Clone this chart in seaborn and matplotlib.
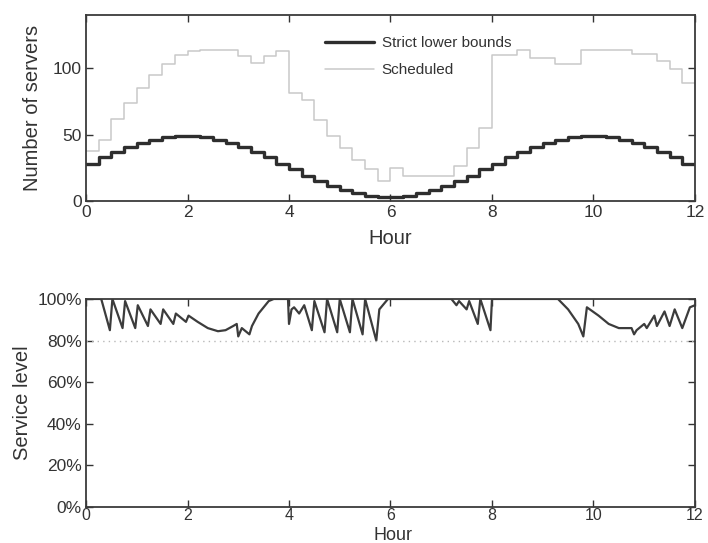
import numpy as np
import pandas as pd
import matplotlib
matplotlib.use("Agg")
import matplotlib.pyplot as plt
import seaborn as sns
from matplotlib.ticker import PercentFormatter

# ---- data -------------------------------------------------------------
# 15-minute interval starts (hours)
interval_start = [0.25 * k for k in range(48)]

strict_lower = [28, 33, 37, 41, 44, 46, 48, 49, 49, 48, 46, 44,
                41, 37, 33, 28, 24, 19, 15, 11, 8, 6, 4, 3,
                3, 4, 6, 8, 11, 15, 19, 24, 28, 33, 37, 41,
                44, 46, 48, 49, 49, 48, 46, 44, 41, 37, 33, 28]

scheduled = [38, 46, 62, 74, 85, 95, 103, 110, 113, 114, 114, 114,
             109, 104, 109, 113, 81, 76, 61, 49, 40, 31, 24, 15,
             25, 19, 19, 19, 19, 26, 40, 55, 110, 110, 114, 108,
             108, 103, 103, 114, 114, 114, 114, 111, 111, 105, 99, 89]

sl_hours = [0, 0.30, 0.47, 0.52, 0.72, 0.77, 0.97, 1.02, 1.22, 1.27, 1.47, 1.52,
            1.72, 1.77, 1.97, 2.02, 2.2, 2.4, 2.6, 2.75, 2.9, 2.97, 3.0, 3.07,
            3.22, 3.27, 3.4, 3.5, 3.6, 3.7, 3.98, 4.0, 4.05, 4.1, 4.2, 4.3,
            4.45, 4.5, 4.7, 4.75, 4.95, 5.0, 5.2, 5.25, 5.45, 5.5, 5.72, 5.78,
            5.95, 7.2, 7.3, 7.35, 7.5, 7.55, 7.72, 7.77, 7.97, 8.0, 9.3, 9.5,
            9.7, 9.8, 9.87, 10.1, 10.3, 10.5, 10.75, 10.8, 10.85, 11.0, 11.05, 11.2,
            11.25, 11.4, 11.5, 11.6, 11.75, 11.9, 12.0]
sl_values = [1.0, 1.0, 0.85, 1.0, 0.86, 0.99, 0.86, 0.97, 0.87, 0.95, 0.88, 0.95,
             0.88, 0.93, 0.89, 0.92, 0.89, 0.86, 0.845, 0.85, 0.87, 0.88, 0.82, 0.86,
             0.83, 0.87, 0.93, 0.96, 0.99, 1.0, 1.0, 0.88, 0.95, 0.96, 0.93, 0.97,
             0.85, 0.99, 0.84, 1.0, 0.84, 1.0, 0.84, 1.0, 0.83, 1.0, 0.80, 0.95,
             1.0, 1.0, 0.97, 0.99, 0.95, 0.99, 0.88, 1.0, 0.85, 1.0, 1.0, 0.95,
             0.88, 0.82, 0.96, 0.92, 0.88, 0.86, 0.86, 0.83, 0.85, 0.88, 0.86, 0.92,
             0.87, 0.94, 0.87, 0.95, 0.86, 0.96, 0.97]

target_level = 0.80

# ---- frames ----------------------------------------------------------
step_t = interval_start + [12.0]
df_top = pd.concat([
    pd.DataFrame({"Hour": step_t, "Servers": strict_lower + [strict_lower[-1]],
                  "Series": "Strict lower bounds"}),
    pd.DataFrame({"Hour": step_t, "Servers": scheduled + [scheduled[-1]],
                  "Series": "Scheduled"}),
], ignore_index=True)
df_sl = pd.DataFrame({"Hour": sl_hours, "SL": sl_values})

# ---- style -----------------------------------------------------------
sns.set_theme(style="ticks")
plt.rcParams["font.family"] = ["Liberation Sans", "DejaVu Sans"]
txt = "#333333"
plt.rcParams.update({
    "text.color": txt, "axes.labelcolor": txt,
    "xtick.color": txt, "ytick.color": txt,
    "axes.edgecolor": "#3a3a3a",
})

fig = plt.figure(figsize=(7.08, 5.43), dpi=100)
ax1 = fig.add_axes([0.1215, 0.6298, 0.8601, 0.3426])
ax2 = fig.add_axes([0.1215, 0.0663, 0.8601, 0.3831])

pal = {"Strict lower bounds": "#2e2e2e", "Scheduled": "#c9c9c9"}
sizes = {"Strict lower bounds": 2.4, "Scheduled": 1.1}
sns.lineplot(data=df_top, x="Hour", y="Servers", hue="Series",
             palette=pal, size="Series", sizes=sizes,
             drawstyle="steps-post", estimator=None, sort=False, ax=ax1)

LBL = 14.5
TCK = 12.5
ax1.set_xlim(0, 12)
ax1.set_ylim(0, 140)
ax1.set_xticks(range(0, 13, 2))
ax1.set_yticks([0, 50, 100])
ax1.set_xlabel("Hour", fontsize=LBL, labelpad=6)
ax1.set_ylabel("Number of servers", fontsize=LBL, labelpad=8)
handles, labels = ax1.get_legend_handles_labels()
leg = ax1.legend(handles, labels, loc="upper left", bbox_to_anchor=(0.37, 0.96),
                 frameon=False, fontsize=11, handlelength=3.2, labelspacing=0.85,
                 handletextpad=0.5)

sns.lineplot(data=df_sl, x="Hour", y="SL", color="#3c3c3c", linewidth=1.6,
             estimator=None, sort=False, ax=ax2)
ax2.axhline(target_level, color="#b8b8b8", linestyle=(0, (1, 3)), linewidth=1.0)
ax2.set_xlim(0, 12)
ax2.set_ylim(0, 1.0)
ax2.set_xticks(range(0, 13, 2))
ax2.set_yticks([0, 0.2, 0.4, 0.6, 0.8, 1.0])
ax2.yaxis.set_major_formatter(PercentFormatter(1.0, decimals=0))
ax2.set_xlabel("")
ax2.set_ylabel("Service level", fontsize=LBL, labelpad=4)

for ax in (ax1, ax2):
    for s in ax.spines.values():
        s.set_visible(True)
        s.set_linewidth(1.3)
    ax.tick_params(direction="in", length=5, width=1.0, top=True, right=True,
                   labelsize=TCK, pad=3)
ax2.tick_params(axis="x", labelsize=11.5, pad=1)
fig.text(0.555, 3 / 543, "Hour", fontsize=13, ha="center", va="baseline", color=txt)

fig.savefig("out.png", dpi=100)
